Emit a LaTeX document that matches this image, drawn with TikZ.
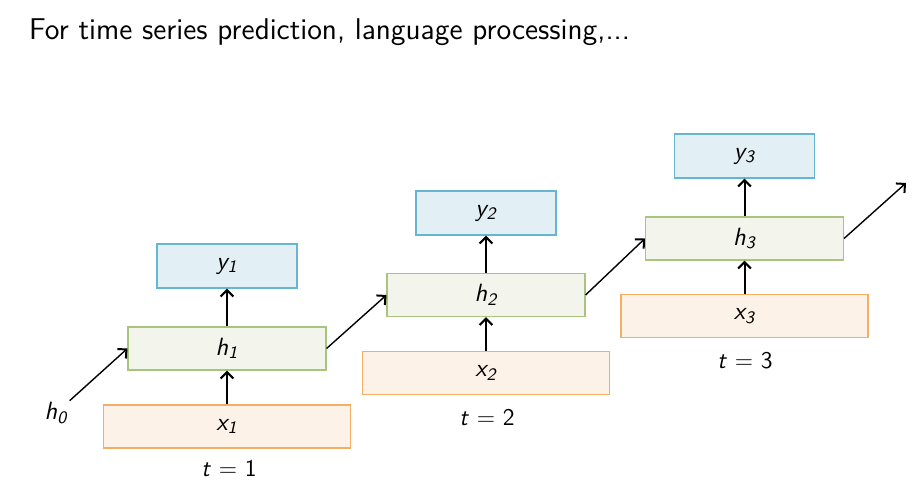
\documentclass[tikz,border=0pt]{standalone}
\usepackage{tikz}
\usepackage{amsmath}
\usetikzlibrary{arrows.meta}

\definecolor{ylinecol}{HTML}{66B6D2}
\definecolor{yfillcol}{HTML}{E2EFF4}
\definecolor{hlinecol}{HTML}{A9C47D}
\definecolor{hfillcol}{HTML}{F3F5EC}
\definecolor{xlinecol}{HTML}{F4AE66}
\definecolor{xfillcol}{HTML}{FCF2E8}

\tikzset{
  ybox/.style = {draw = ylinecol, fill = yfillcol, line width = 0.55pt, minimum width = 70pt, minimum height = 22pt, font = \fontsize{12.5}{14}\sffamily\itshape},
  hbox/.style = {draw = hlinecol, fill = hfillcol, line width = 0.55pt, minimum width = 99pt, minimum height = 21.5pt, font = \fontsize{12.5}{14}\sffamily\itshape},
  xbox/.style = {draw = xlinecol, fill = xfillcol, line width = 0.55pt, minimum width = 123.5pt, minimum height = 21.5pt, font = \fontsize{12.5}{14}\sffamily\itshape},
  upflow/.style = {-{Straight Barb[length = 3.2pt, width = 6.4pt, line width = 1.1pt]}, black, line width = 1pt},
  sideflow/.style = {-{Straight Barb[length = 3.2pt, width = 6.4pt, line width = 1pt]}, black, line width = 0.7pt},
  steplabel/.style = {black, font = \fontsize{12}{14}\sffamily}
}

\newcommand{\sub}[2]{#1\textsubscript{#2}}

\begin{document}
\begin{tikzpicture} [x = 0.5pt, y = -0.5pt]
\useasboundingbox (0, 0) rectangle (916, 489);
\node[black, right, font = \fontsize{15}{18}\sffamily] (title) at (22, 32){For time series prediction, language processing,...};
% t = 1
\node[ybox] (y1) at (227, 266){\sub{y}{1}};
\node[hbox] (h1) at (227, 348.5){\sub{h}{1}};
\node[xbox] (x1) at (227, 426.5){\sub{x}{1}};
\node[steplabel] (t1) at (229, 468){\textit{t} = 1};
% t = 2
\node[ybox] (y2) at (486, 213){\sub{y}{2}};
\node[hbox] (h2) at (486, 295){\sub{h}{2}};
\node[xbox] (x2) at (486, 373){\sub{x}{2}};
\node[steplabel] (t2) at (487, 417){\textit{t} = 2};
% t = 3
\node[ybox] (y3) at (744.5, 156){\sub{y}{3}};
\node[hbox] (h3) at (744.5, 238.5){\sub{h}{3}};
\node[xbox] (x3) at (744.5, 316){\sub{x}{3}};
\node[steplabel] (t3) at (745, 361){\textit{t} = 3};
\node[black, font = \fontsize{12.5}{14}\sffamily\itshape, inner sep = 1pt] (h0) at (56, 413){\sub{h}{0}};
\coordinate (hout) at (906, 183);
\draw[upflow] (x1) -- (h1);
\draw[upflow] (h1) -- (y1);
\draw[upflow] (x2) -- (h2);
\draw[upflow] (h2) -- (y2);
\draw[upflow] (x3) -- (h3);
\draw[upflow] (h3) -- (y3);
\draw[sideflow] (h0) -- (h1.west);
\draw[sideflow] (h1.east) -- (h2.west);
\draw[sideflow] (h2.east) -- (h3.west);
\draw[sideflow] (h3.east) -- (hout);
\end{tikzpicture}
\end{document}
